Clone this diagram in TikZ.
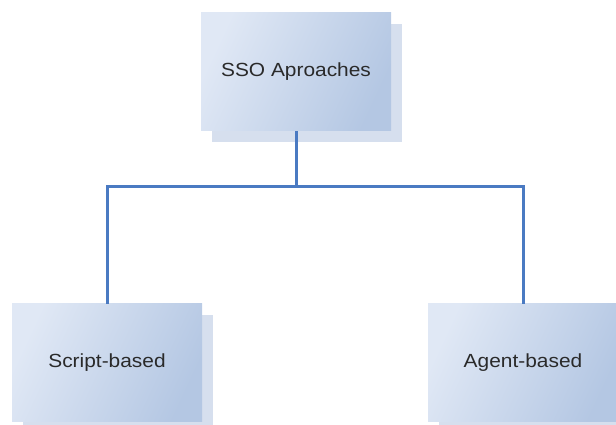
\documentclass[tikz,border=0pt]{standalone}
\usepackage{fontspec}
\usepackage{graphicx}
\setmainfont{Liberation Sans}
\usetikzlibrary{shadows}
\definecolor{boxlight}{HTML}{E0E8F5}
\definecolor{boxdark}{HTML}{B4C7E3}
\definecolor{shadowc}{HTML}{D6DFEE}
\definecolor{linkc}{HTML}{4A7AC2}
\definecolor{textc}{HTML}{2A2A2A}
\newcommand{\boxlabel}[1]{\scalebox{1.1}[1]{#1}}
\tikzset{
  conceptbox/.style={
    rectangle, minimum width=190pt, minimum height=118pt, inner sep=0pt,
    shading=axis, left color=boxlight, right color=boxdark, shading angle=65,
    general shadow={fill=shadowc, shadow xshift=11pt, shadow yshift=-11pt},
    text=textc, font=\fontsize{19}{22}\selectfont
  },
  link/.style={draw=linkc, line width=3pt}
}
\begin{document}
\begin{tikzpicture}[x=1pt, y=1pt]
  \useasboundingbox (0,0) rectangle (616,425);
  \coordinate (junction) at (296,238);
  \node[conceptbox] (root) at (296,353) {\boxlabel{SSO Aproaches}};
  \node[conceptbox] (script) at (107,62) {\boxlabel{Script-based}};
  \node[conceptbox] (agent) at (523,62) {\boxlabel{Agent-based}};
  \draw[link] (root.south) -- (junction);
  \draw[link] (script.north) |- (junction) -| (agent.north);
\end{tikzpicture}
\end{document}
